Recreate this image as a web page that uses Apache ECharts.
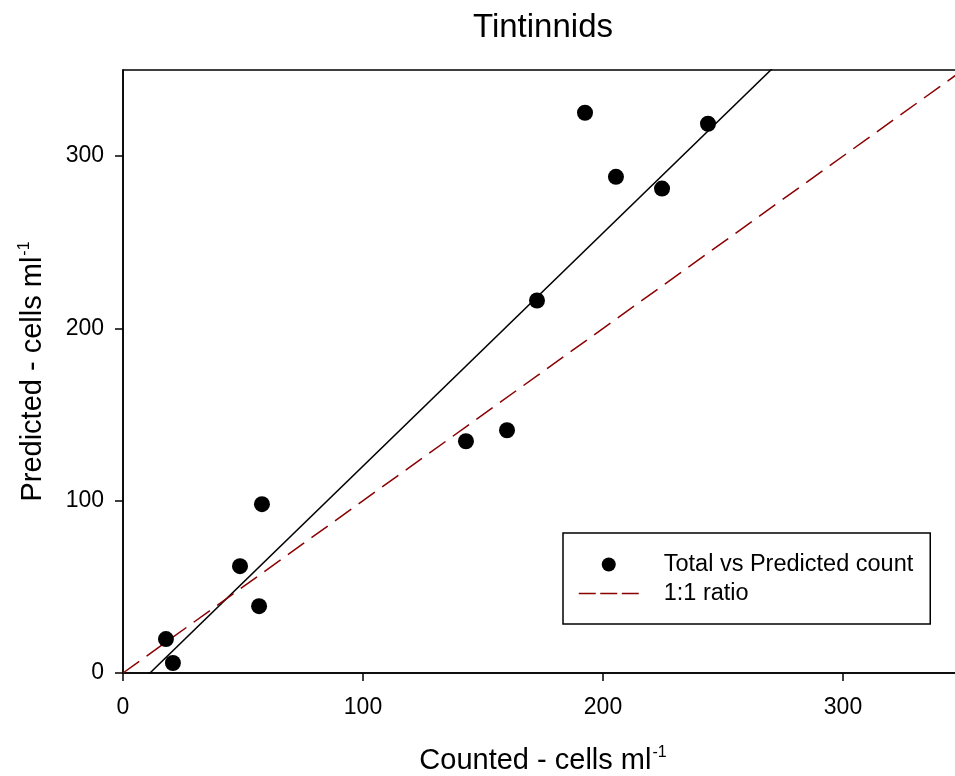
<!DOCTYPE html>
<html>
<head>
<meta charset="utf-8">
<script src="https://cdn.jsdelivr.net/npm/echarts@6/dist/echarts.min.js"></script>
<style>
html,body{margin:0;padding:0;background:#fff;}
#chart{width:955px;height:776px;}
</style>
</head>
<body>
<div id="chart"></div>
<script>
// Data
const counted   = [17.9, 20.8, 48.75, 56.7, 57.9, 142.9, 160, 172.5, 192.5, 205.4, 224.6, 243.75];
const predicted = [19.7, 5.8, 62, 38.8, 98, 134.5, 140.9, 216.2, 325.2, 288, 281.2, 318.8];
const fitSlope = 1.353;
const fitIntercept = -15.2;
const ratioLine = [0, 350];
const tickValues = [0, 100, 200, 300];
const axisMin = 0, axisMax = 350;

const pts = counted.map((c, i) => [c, predicted[i]]);
const fitPts = [axisMin, axisMax].map(x => [x, fitSlope * x + fitIntercept]);
const onePts = ratioLine.map(v => [v, v]);

const FONT = '"Liberation Sans", Arial, Helvetica, sans-serif';
const chart = echarts.init(document.getElementById('chart'), null, {renderer: 'canvas'});

chart.setOption({
  backgroundColor: '#fff',
  animation: false,
  graphic: [{
    type: 'text', x: 543, y: 11, silent: true,
    style: {text: 'Tintinnids', align: 'center', verticalAlign: 'top',
            font: 'normal 33px ' + FONT, fill: '#000'}
  }],
  grid: {
    left: 123, top: 70, width: 840, height: 603,
    outerBoundsMode: 'none', containLabel: false,
    show: true, borderColor: '#000', borderWidth: 1.5, backgroundColor: 'transparent'
  },
  legend: {
    orient: 'vertical',
    left: 563, top: 533,
    padding: [18, 17, 17, 15],
    borderColor: '#000', borderWidth: 1.5,
    itemWidth: 60, itemHeight: 14, itemGap: 2,
    textStyle: {fontFamily: FONT, fontSize: 23.5, lineHeight: 27, color: '#000', padding: [0, 0, 0, 20]},
    data: [
      'Total vs Predicted count',
      {name: '1:1 ratio',
       itemStyle: {color: 'transparent', borderColor: 'transparent', opacity: 0},
       lineStyle: {color: '#8B0000', width: 1.5, type: [17, 4.5]}}
    ]
  },
  xAxis: {
    type: 'value', min: axisMin, max: axisMax, interval: 100,
    name: '{a|Counted - cells ml}{s|-1}',
    nameLocation: 'middle', nameGap: 72,
    nameTextStyle: {
      rich: {
        a: {fontFamily: FONT, fontSize: 29, color: '#000', verticalAlign: 'bottom'},
        s: {fontFamily: FONT, fontSize: 16, color: '#000', verticalAlign: 'bottom', padding: [0, 0, 14, 1]}
      }
    },
    axisLine: {show: true, onZero: false, lineStyle: {color: '#000', width: 1.5}},
    axisTick: {show: true, inside: false, length: 8, customValues: tickValues, lineStyle: {color: '#000', width: 1.5}},
    axisLabel: {customValues: tickValues, margin: 23, fontFamily: FONT, fontSize: 23, color: '#000'},
    splitLine: {show: false}
  },
  yAxis: {
    type: 'value', min: axisMin, max: axisMax, interval: 100,
    name: '{a|Predicted - cells ml}{s|-1}',
    nameLocation: 'middle', nameGap: 76, nameRotate: 90,
    nameTextStyle: {
      rich: {
        a: {fontFamily: FONT, fontSize: 29, color: '#000', verticalAlign: 'bottom'},
        s: {fontFamily: FONT, fontSize: 16, color: '#000', verticalAlign: 'bottom', padding: [0, 0, 14, 1]}
      }
    },
    axisLine: {show: true, onZero: false, lineStyle: {color: '#000', width: 1.5}},
    axisTick: {show: true, inside: false, length: 8, customValues: tickValues, lineStyle: {color: '#000', width: 1.5}},
    axisLabel: {customValues: tickValues, margin: 19, fontFamily: FONT, fontSize: 23, color: '#000'},
    splitLine: {show: false}
  },
  series: [
    {
      name: 'Regression',
      type: 'line', data: fitPts, symbol: 'none', clip: true, silent: true,
      lineStyle: {color: '#000', width: 1.5}, z: 2
    },
    {
      name: '1:1 ratio',
      type: 'line', data: onePts, symbol: 'none', clip: true, silent: true,
      lineStyle: {color: '#8B0000', width: 1.5, type: [20, 9]},
      itemStyle: {color: '#8B0000'}, z: 2
    },
    {
      name: 'Total vs Predicted count',
      type: 'scatter', data: pts, symbol: 'circle', symbolSize: 16,
      itemStyle: {color: '#000', opacity: 1}, z: 3
    }
  ]
});
</script>
</body>
</html>
